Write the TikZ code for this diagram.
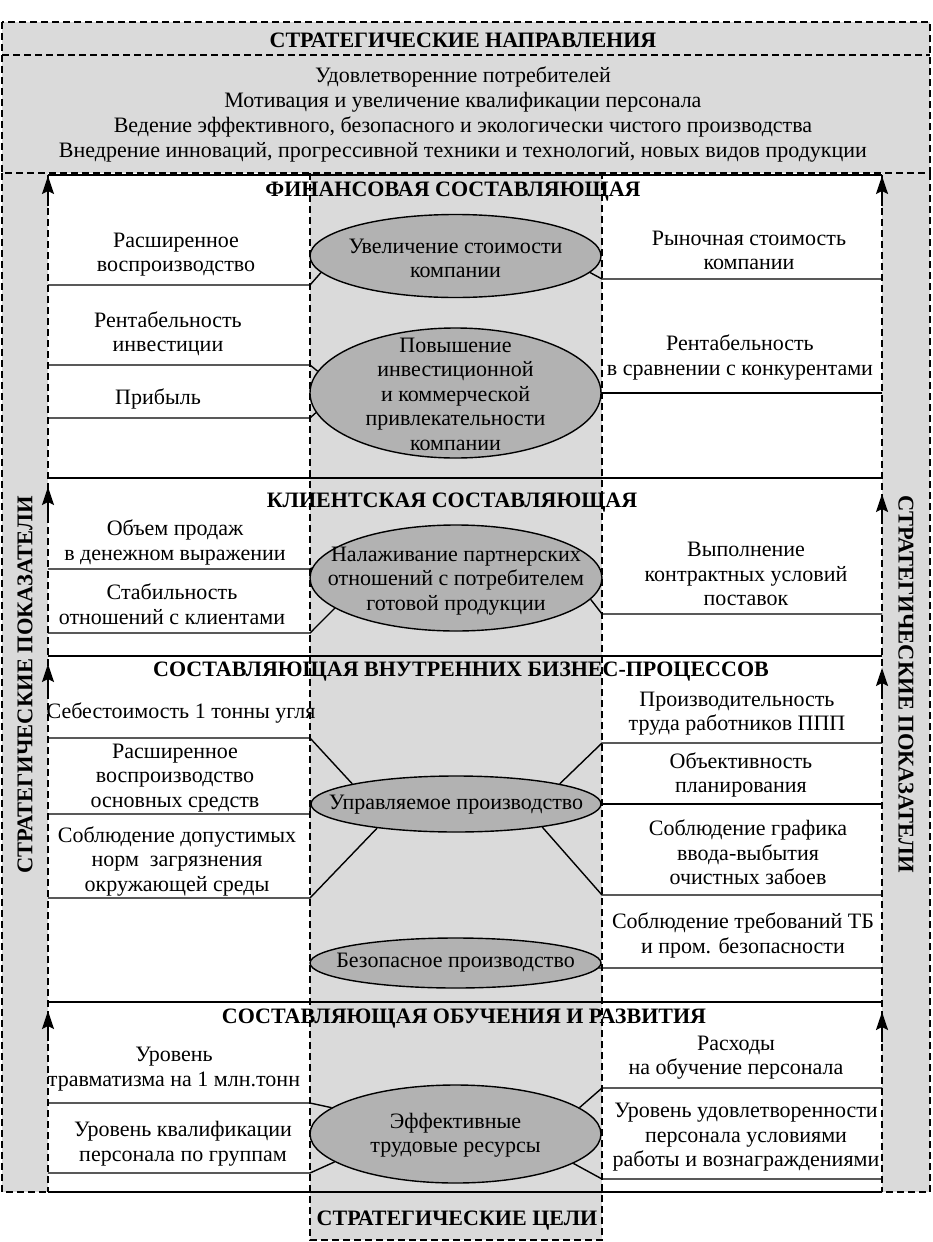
\documentclass[tikz,border=0pt]{standalone}
\usepackage{fontspec}
\setmainfont{Liberation Serif}
\usetikzlibrary{shapes.geometric,arrows.meta}
\definecolor{bggray}{RGB}{218,218,218}
\definecolor{ellgray}{RGB}{178,178,178}
\begin{document}
\begin{tikzpicture}[x=1pt,y=-1pt,
  txt/.style={font=\fontsize{22}{24.5}\selectfont, align=center, inner sep=0pt},
  hdr/.style={font=\bfseries\fontsize{22}{24}\selectfont, inner sep=0pt},
  ell/.style={ellipse, draw, line width=1.4pt, fill=ellgray, inner sep=0pt},
  dsh/.style={dash pattern=on 7pt off 4pt, line width=1.3pt},
  sol/.style={line width=1.7pt},
  con/.style={line width=1.4pt},
  arr/.style={line width=2pt, -{Stealth[length=18pt,width=12pt,inset=3pt]}}]
\useasboundingbox (0,0) rectangle (932,1242);
\fill[white] (0,0) rectangle (932,1242);
% gray areas
\fill[bggray] (2,22) rectangle (930,173);
\fill[bggray] (2,173) rectangle (48,1192);
\fill[bggray] (882,173) rectangle (930,1192);
\fill[bggray] (310,173) rectangle (602,1240);
% dashed borders
\draw[dsh] (2,22) rectangle (930,173);
\draw[dsh] (2,55) -- (930,55);
\draw[dsh] (2,173) -- (2,1192) -- (48,1192);
\draw[dsh] (930,173) -- (930,1192) -- (882,1192);
\draw[dsh] (310,173) -- (310,1240) -- (602,1240) -- (602,173);
\draw[dsh] (48,175) -- (48,1192);
\draw[dsh] (882,175) -- (882,1192);
% section lines
\foreach \y in {175,478,656,1002,1192} \draw[sol] (48,\y) -- (882,\y);
% arrows
\foreach \t in {176,487,664,1011} \draw[arr] (48,\t+30) -- (48,\t);
\foreach \t in {176,494,668,1012} \draw[arr] (882,\t+30) -- (882,\t);

% top box
\node[hdr] (sdir) at (463,40) {СТРАТЕГИЧЕСКИЕ НАПРАВЛЕНИЯ};
\node[txt, font=\fontsize{22}{25}\selectfont] (dirs) at (463,114.5) {Удовлетворенние потребителей\\Мотивация и увеличение квалификации персонала\\Ведение эффективного, безопасного и экологически чистого производства\\Внедрение инноваций, прогрессивной техники и технологий, новых видов продукции};

% side labels
\node[hdr, font=\bfseries\fontsize{22.5}{24}\selectfont, rotate=90] (spl) at (25,685) {СТРАТЕГИЧЕСКИЕ ПОКАЗАТЕЛИ};
\node[hdr, font=\bfseries\fontsize{22.5}{24}\selectfont, rotate=-90] (spr) at (906,684) {СТРАТЕГИЧЕСКИЕ ПОКАЗАТЕЛИ};

% headers
\node[hdr] (h1) at (453,192) {ФИНАНСОВАЯ СОСТАВЛЯЮЩАЯ};
\node[hdr] (h2) at (452,503) {КЛИЕНТСКАЯ СОСТАВЛЯЮЩАЯ};
\node[hdr] (h3) at (461,672) {СОСТАВЛЯЮЩАЯ ВНУТРЕННИХ БИЗНЕС-ПРОЦЕССОВ};
\node[hdr] (h4) at (464,1019) {СОСТАВЛЯЮЩАЯ ОБУЧЕНИЯ И РАЗВИТИЯ};
\node[hdr] (goals) at (457,1221) {СТРАТЕГИЧЕСКИЕ ЦЕЛИ};

% ellipses
\node[ell, minimum width=291pt, minimum height=83pt] (e1) at (455.5,256) {};
\node[ell, minimum width=291pt, minimum height=130pt] (e2) at (455.5,393) {};
\node[ell, minimum width=292pt, minimum height=106pt] (e3) at (456,578) {};
\node[ell, minimum width=290pt, minimum height=56pt] (e4) at (456,804) {};
\node[ell, minimum width=291pt, minimum height=50pt] (e5) at (455.5,963) {};
\node[ell, minimum width=291pt, minimum height=98pt] (e6) at (455.5,1134) {};
\node[txt] (e1t) at (455.5,258.5) {Увеличение стоимости\\компании};
\node[txt] (e2t) at (455.5,394) {Повышение\\инвестиционной\\и коммерческой\\привлекательности\\компании};
\node[txt] (e3t) at (456,581) {Налаживание партнерских\\отношений с потребителем\\готовой продукции};
\node[txt] (e4t) at (456,805) {Управляемое производство};
\node[txt] (e5t) at (455.5,963) {Безопасное производство};
\node[txt] (e6t) at (455.5,1135) {Эффективные\\трудовые ресурсы};

% left indicators
\node[txt] (l1) at (176,254.5) {Расширенное\\воспроизводство};
\node[txt] (l2) at (168,333.5) {Рентабельность\\инвестиции};
\node[txt] (l3) at (158,399) {Прибыль};
\node[txt] (l4) at (175,542.5) {Объем продаж\\в денежном выражении};
\node[txt] (l5) at (172,604) {Стабильность\\отношений с клиентами};
\node[txt] (l6) at (181,713) {Себестоимость 1 тонны угля};
\node[txt] (l7) at (175,778) {Расширенное\\воспроизводство\\основных средств};
\node[txt] (l8) at (177,861) {Соблюдение допустимых\\норм\ \ загрязнения\\окружающей среды};
\node[txt] (l9) at (174,1069) {Уровень\\травматизма на 1 млн.тонн};
\node[txt] (l10) at (183,1143.5) {Уровень квалификации\\персонала по группам};

% right indicators
\node[txt] (r1) at (749,250.5) {Рыночная стоимость\\компании};
\node[txt] (r2) at (740,357.5) {Рентабельность\\в сравнении с конкурентами};
\node[txt] (r3) at (746,574) {Выполнение\\контрактных условий\\поставок};
\node[txt] (r4) at (737,713.5) {Производительность\\труда работников ППП};
\node[txt] (r5) at (741,775) {Объективность\\планирования};
\node[txt] (r6) at (748,852.5) {Соблюдение графика\\ввода-выбытия\\очистных забоев};
\node[txt] (r7) at (743,935.5) {Соблюдение требований ТБ\\и пром. безопасности};
\node[txt] (r8) at (736,1057.5) {Расходы\\на обучение персонала};
\node[txt] (r9) at (746,1137.5) {Уровень удовлетворенности\\персонала условиями\\работы и вознаграждениями};

% free ends of connectors
\coordinate (a1) at (48,285);   \coordinate (a2) at (48,365);
\coordinate (a3) at (48,418);   \coordinate (a4) at (48,569);
\coordinate (a5) at (48,633);   \coordinate (a6) at (48,738);
\coordinate (a7) at (48,814);   \coordinate (a8) at (48,898);
\coordinate (a9) at (48,1103);  \coordinate (a10) at (48,1173);
\coordinate (b1) at (882,279);  \coordinate (b2) at (882,393);
\coordinate (b3) at (882,614);  \coordinate (b4) at (882,743);
\coordinate (b5) at (882,804);  \coordinate (b6) at (882,895);
\coordinate (b7) at (882,968);  \coordinate (b8) at (882,1088);
\coordinate (b9) at (882,1179);

% connectors left
\draw[con] (a1) -- (310,285) -- (e1.187);
\draw[con] (a2) -- (310,365) -- (e2.171);
\draw[con] (a3) -- (310,418) -- (e2.188);
\draw[con] (a4) -- (310,569) -- (e3.176);
\draw[con] (a5) -- (310,633) -- (e3.194);
\draw[con] (a6) -- (310,738) -- (e4.169);
\draw[con] (a7) -- (310,814) -- (e4.180);
\draw[con] (a8) -- (310,898) -- (e4.197);
\draw[con] (a9) -- (310,1103) -- (e6.168);
\draw[con] (a10) -- (310,1173) -- (e6.193);
% connectors right
\draw[con] (b1) -- (602,279) -- (e1.-7);
\draw[con] (b2) -- (e2.0);
\draw[con] (b3) -- (602,614) -- (e3.-9);
\draw[con] (b4) -- (602,743) -- (e4.11);
\draw[con] (b5) -- (e4.0);
\draw[con] (b6) -- (602,895) -- (e4.-15);
\draw[con] (b7) -- (602,968) -- (e5.-2);
\draw[con] (b8) -- (602,1088) -- (e6.12);
\draw[con] (b9) -- (602,1179) -- (e6.-14);
\end{tikzpicture}
\end{document}
